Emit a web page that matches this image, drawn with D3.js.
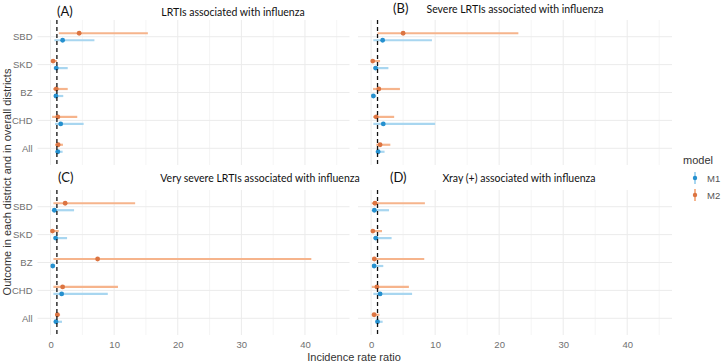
<!DOCTYPE html>
<html>
<head>
<meta charset="utf-8">
<script src="https://cdn.jsdelivr.net/npm/d3@7"></script>
<style>
  body { margin: 0; background: #fff; }
</style>
</head>
<body>
<div id="chart"></div>
<script>
// categories (top to bottom) and models
var categories = ["SBD", "SKD", "BZ", "CHD", "All"];
var models = ["M1", "M2"];
var xTicks = [0, 10, 20, 30, 40];

// each row: [lower, estimate, upper], same order as categories
var lrtiM1 = [[0.6, 1.9, 6.9], [0.5, 0.9, 2.7], [0.5, 0.85, 2.0], [0.7, 1.6, 5.2], [0.7, 1.15, 1.9]];
var lrtiM2 = [[1.3, 4.5, 15.3], [0.05, 0.4, 1.0], [0.4, 0.9, 2.7], [0.25, 1.15, 4.2], [0.7, 1.2, 1.95]];

var severeM1 = [[0.35, 1.8, 9.5], [0.3, 0.7, 2.7], [0.2, 0.35, 0.8], [0.35, 1.9, 10.0], [0.7, 1.1, 2.1]];
var severeM2 = [[1.0, 5.0, 23.0], [0.1, 0.25, 1.4], [0.3, 1.2, 4.5], [0.3, 0.8, 3.6], [0.8, 1.4, 3.0]];

var verySevereM1 = [[0.35, 0.6, 3.7], [0.45, 0.8, 2.6], [0.2, 0.35, 0.7], [0.45, 1.75, 9.0], [0.45, 0.86, 1.8]];
var verySevereM2 = [[0.45, 2.3, 13.3], [0.2, 0.3, 1.3], [0.45, 7.4, 41.0], [0.45, 1.9, 10.6], [0.7, 1.07, 1.5]];

var xrayM1 = [[0.35, 0.5, 2.8], [0.3, 0.73, 3.2], [0.3, 0.47, 1.9], [0.35, 1.4, 6.4], [0.7, 1.0, 1.8]];
var xrayM2 = [[0.1, 0.6, 8.4], [0.1, 0.27, 1.7], [0.2, 0.5, 8.3], [0.1, 0.9, 5.9], [0.1, 0.47, 1.3]];

var panelTags = ["(A)", "(B)", "(C)", "(D)"];
var panelTitles = ["LRTIs associated with influenza", "Severe LRTIs associated with influenza",
                   "Very severe LRTIs associated with influenza", "Xray (+) associated with influenza"];
var panelData = [[lrtiM1, lrtiM2], [severeM1, severeM2], [verySevereM1, verySevereM2], [xrayM1, xrayM2]];

var pointColor = {M1: "#2590cf", M2: "#dc7441"};
var lineColor = {M1: "#a8d6f0", M2: "#f6b48c"};

var width = 722, height = 362;
var svg = d3.select("#chart").append("svg")
  .attr("width", width)
  .attr("height", height)
  .style("font-family", "'Liberation Sans', Arial, sans-serif");

// panel boxes: left/right columns, top/bottom rows
var cols = [{x0: 37.5, x1: 349.5}, {x0: 358, x1: 672}];
var rows = [{y0: 20, y1: 165}, {y0: 190, y1: 335}];
var xDomain = [-2.05, 47];

var tagPos = [{x: 57, y: 16}, {x: 393, y: 13}, {x: 58, y: 182}, {x: 390, y: 182}];
var titlePos = [{x: 233, y: 16}, {x: 515, y: 13}, {x: 260, y: 182}, {x: 519, y: 182}];

var drawPanel = function(i) {
  var col = cols[i % 2], row = rows[Math.floor(i / 2)];
  var g = svg.append("g");

  var x = d3.scaleLinear().domain(xDomain).range([col.x0, col.x1]);
  var y = d3.scalePoint().domain(categories).range([row.y0, row.y1]).padding(0.6);
  var dodge = d3.scalePoint().domain(["M2", "M1"]).range([-3.5, 3.5]);

  // minor grid
  g.selectAll(".minor").data([5, 15, 25, 35, 45]).enter().append("line")
    .attr("x1", function(d) { return x(d); })
    .attr("x2", function(d) { return x(d); })
    .attr("y1", row.y0).attr("y2", row.y1)
    .attr("stroke", "#f2f2f2").attr("stroke-width", 0.8);
  // major grid
  g.selectAll(".majorx").data(xTicks).enter().append("line")
    .attr("x1", function(d) { return x(d); })
    .attr("x2", function(d) { return x(d); })
    .attr("y1", row.y0).attr("y2", row.y1)
    .attr("stroke", "#ebebeb").attr("stroke-width", 1);
  g.selectAll(".majory").data(categories).enter().append("line")
    .attr("x1", col.x0).attr("x2", col.x1)
    .attr("y1", function(d) { return y(d); })
    .attr("y2", function(d) { return y(d); })
    .attr("stroke", "#ebebeb").attr("stroke-width", 1);

  // y axis labels only on the left column
  if (i % 2 == 0) {
    var ya = g.append("g")
      .attr("transform", "translate(" + col.x0 + ",0)")
      .call(d3.axisLeft(y).tickSize(0).tickPadding(5));
    ya.select(".domain").remove();
    ya.selectAll("text").attr("fill", "#707070").style("font-size", "9.5px")
      .style("font-family", "'Liberation Sans', Arial, sans-serif");
  }
  // x axis labels only on the bottom row
  if (i >= 2) {
    var xa = g.append("g")
      .attr("transform", "translate(0," + row.y1 + ")")
      .call(d3.axisBottom(x).tickValues(xTicks).tickSize(0).tickPadding(6));
    xa.select(".domain").remove();
    xa.selectAll("text").attr("fill", "#707070").style("font-size", "9.5px")
      .style("font-family", "'Liberation Sans', Arial, sans-serif");
  }

  // point ranges
  models.forEach(function(m, k) {
    var vals = panelData[i][k];
    var rowsData = categories.map(function(c, j) { return {cat: c, v: vals[j]}; });
    g.selectAll(".rng" + m).data(rowsData).enter().append("line")
      .attr("x1", function(d) { return x(d.v[0]); })
      .attr("x2", function(d) { return x(d.v[2]); })
      .attr("y1", function(d) { return y(d.cat) + dodge(m); })
      .attr("y2", function(d) { return y(d.cat) + dodge(m); })
      .attr("stroke", lineColor[m])
      .attr("stroke-width", 2.2);
    g.selectAll(".pt" + m).data(rowsData).enter().append("circle")
      .attr("cx", function(d) { return x(d.v[1]); })
      .attr("cy", function(d) { return y(d.cat) + dodge(m); })
      .attr("r", 2.4)
      .attr("fill", pointColor[m]);
  });

  // reference line at 1
  g.append("line")
    .attr("x1", x(1)).attr("x2", x(1))
    .attr("y1", row.y0).attr("y2", row.y1)
    .attr("stroke", "#111")
    .attr("stroke-width", 1.3)
    .attr("stroke-dasharray", "4,3");

  // tag and title
  g.append("text")
    .attr("x", tagPos[i].x).attr("y", tagPos[i].y)
    .style("font-family", "Lato, 'Open Sans', sans-serif")
    .style("font-size", "13px")
    .attr("fill", "#111")
    .text(panelTags[i]);
  g.append("text")
    .attr("x", titlePos[i].x).attr("y", titlePos[i].y)
    .attr("text-anchor", "middle")
    .style("font-family", "Lato, 'Open Sans', sans-serif")
    .style("font-size", "10.5px")
    .attr("fill", "#111")
    .text(panelTitles[i]);
};

for (var i = 0; i < 4; i++) {
  drawPanel(i);
}

// axis titles
svg.append("text")
  .attr("transform", "translate(11,182) rotate(-90)")
  .attr("text-anchor", "middle")
  .style("font-size", "11px")
  .attr("fill", "#333")
  .text("Outcome in each district and in overall districts");

svg.append("text")
  .attr("x", 354).attr("y", 361)
  .attr("text-anchor", "middle")
  .style("font-size", "11px")
  .attr("fill", "#333")
  .text("Incidence rate ratio");

// legend
var legend = svg.append("g");
legend.append("text")
  .attr("x", 683).attr("y", 164)
  .style("font-size", "11px")
  .attr("fill", "#333")
  .text("model");
models.forEach(function(m, k) {
  var ly = 178 + k * 17;
  legend.append("line")
    .attr("x1", 695).attr("x2", 695)
    .attr("y1", ly - 6).attr("y2", ly + 6)
    .attr("stroke", lineColor[m]).attr("stroke-width", 2);
  legend.append("circle")
    .attr("cx", 695).attr("cy", ly).attr("r", 2.2)
    .attr("fill", pointColor[m]);
  legend.append("text")
    .attr("x", 707).attr("y", ly + 3.5)
    .style("font-size", "9.5px")
    .attr("fill", "#555")
    .text(m);
});
</script>
</body>
</html>
